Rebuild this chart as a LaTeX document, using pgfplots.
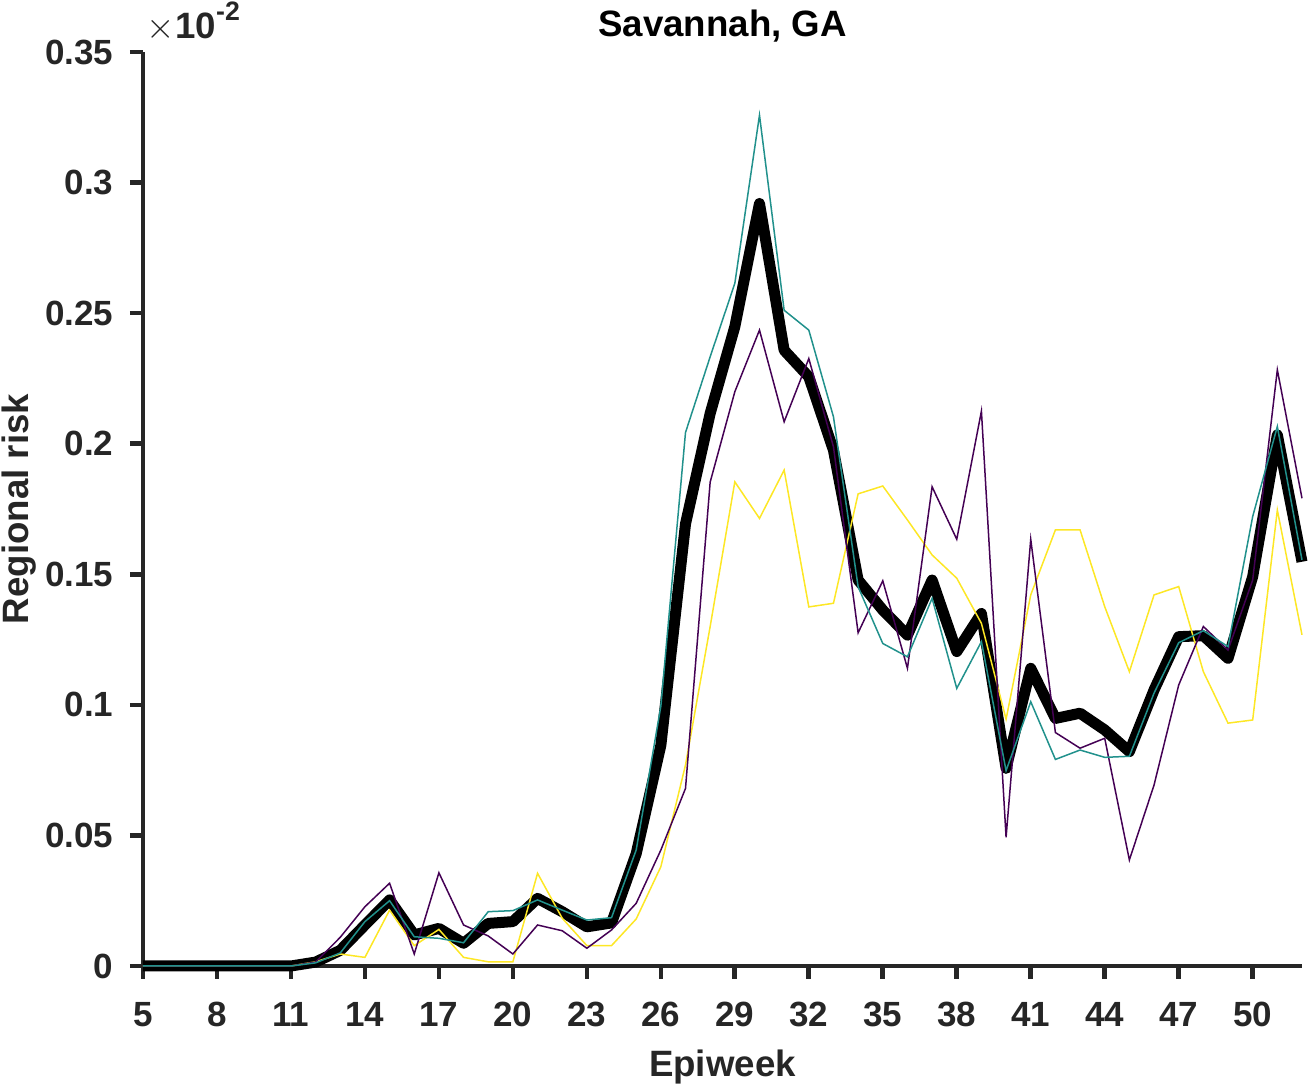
\documentclass[border=0pt]{standalone}
\usepackage{pgfplots}
\pgfplotsset{compat=1.18}
\usepackage{fontspec}
\setmainfont{Liberation Sans}
\definecolor{vpurple}{HTML}{440154}
\definecolor{vteal}{HTML}{21918C}
\definecolor{vyellow}{HTML}{FDE725}
\definecolor{axgray}{HTML}{262626}
\pgfplotstableread{
week black purple teal yellow
5 0 0 0 0
6 0 0 0 0
7 0 0 0 0
8 0 0 0 0
9 0 0 0 0
10 0 0 0 0
11 0 0 0 0
12 0.0015 0.0015 0.0012 0.0016
13 0.006 0.011 0.005 0.0046
14 0.0157 0.0227 0.017 0.0033
15 0.0253 0.0317 0.025 0.0214
16 0.0119 0.0046 0.0112 0.0078
17 0.0144 0.0357 0.0106 0.014
18 0.0087 0.0157 0.0089 0.0033
19 0.0163 0.0115 0.0208 0.0016
20 0.017 0.0046 0.0212 0.0016
21 0.0259 0.0157 0.0253 0.0355
22 0.0208 0.0135 0.0214 0.0183
23 0.015 0.0068 0.0176 0.0078
24 0.0165 0.0138 0.0185 0.0078
25 0.043 0.024 0.0444 0.018
26 0.0845 0.0444 0.0995 0.038
27 0.1693 0.068 0.2043 0.077
28 0.2116 0.1853 0.2333 0.130
29 0.2448 0.2199 0.2614 0.1854
30 0.292 0.2435 0.3258 0.1714
31 0.2358 0.2084 0.2511 0.1899
32 0.2256 0.2326 0.2435 0.1375
33 0.1975 0.1988 0.2103 0.1389
34 0.1478 0.1276 0.1452 0.1808
35 0.1363 0.1475 0.1235 0.1838
36 0.1267 0.114 0.1184 0.1708
37 0.1478 0.1835 0.1408 0.1574
38 0.1204 0.1634 0.1063 0.1485
39 0.135 0.2125 0.1242 0.1312
40 0.0757 0.0493 0.0748 0.0945
41 0.114 0.1634 0.1012 0.1421
42 0.0948 0.0894 0.0791 0.167
43 0.0968 0.0834 0.0827 0.167
44 0.0904 0.0872 0.0799 0.1376
45 0.0821 0.0406 0.0803 0.1127
46 0.1057 0.0693 0.1045 0.1421
47 0.1261 0.1076 0.1238 0.1453
48 0.1265 0.13 0.1284 0.1127
49 0.1178 0.121 0.1223 0.093
50 0.1491 0.1478 0.1721 0.0942
51 0.2034 0.2283 0.2066 0.1746
52 0.1548 0.1791 0.1555 0.1268
}\datatable
\begin{document}
\begin{tikzpicture}[x=1pt,y=1pt]
\useasboundingbox (-42.9,-36) rectangle (350.1,289.8);
\begin{axis}[
  at={(0,0)}, anchor=south west,
  scale only axis, width=347.7pt, height=274.2pt,
  xmin=5, xmax=52, ymin=0, ymax=0.35,
  clip=false,
  axis x line*=bottom, axis y line*=left,
  axis line style={line width=1.4pt, draw=axgray, -},
  tick align=outside, major tick length=3.9pt,
  every tick/.style={line width=1.4pt, draw=axgray},
  xtick={5,8,11,14,17,20,23,26,29,32,35,38,41,44,47,50},
  xticklabels={5,8,11,14,17,20,23,26,29,32,35,38,41,44,47,50},
  ytick={0,0.05,0.1,0.15,0.2,0.25,0.3,0.35},
  yticklabels={0,0.05,0.1,0.15,0.2,0.25,0.3,0.35},
  scaled y ticks=false,
  ticklabel style={font=\fontsize{10.5}{12}\selectfont\bfseries, text=axgray},
  xticklabel style={yshift=-3.5pt},
  yticklabel style={xshift=-1.5pt},
  title={Savannah, GA},
  title style={font=\fontsize{11}{13}\selectfont\bfseries, yshift=-6.6pt},
  xlabel={Epiweek}, ylabel={Regional risk},
  label style={font=\fontsize{11}{13}\selectfont\bfseries, text=axgray},
  ylabel style={at={(rel axis cs:-0.1225,0.5)}, anchor=north, inner sep=0pt},
]
\addplot[black, line width=3.3pt, line join=round] table[x=week, y=black] {\datatable};
\addplot[vyellow, line width=0.45pt] table[x=week, y=yellow] {\datatable};
\addplot[vpurple, line width=0.45pt] table[x=week, y=purple] {\datatable};
\addplot[vteal, line width=0.45pt] table[x=week, y=teal] {\datatable};
\node[anchor=south west, inner sep=0pt, xshift=1pt, yshift=3pt, text=axgray, font=\fontsize{11}{13}\selectfont] at (rel axis cs:0,1) {$\times$\textbf{10}\raisebox{0.9ex}{\fontsize{8}{9}\selectfont\bfseries -2}};
\end{axis}
\end{tikzpicture}
\end{document}
